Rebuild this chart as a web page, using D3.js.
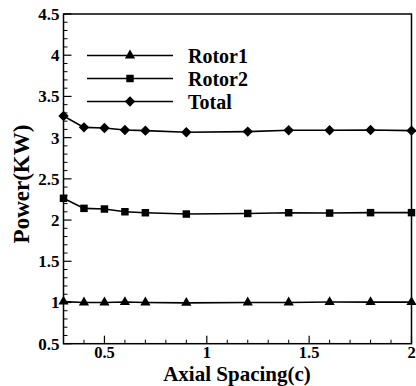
<!DOCTYPE html>
<html>
<head>
<meta charset="utf-8">
<script src="https://cdn.jsdelivr.net/npm/d3@7"></script>
<style>
  html, body { margin: 0; padding: 0; background: #fff; }
  svg { display: block; }
</style>
</head>
<body>
<svg id="chart" width="416" height="386"></svg>
<script>
const xValues = [0.3, 0.4, 0.5, 0.6, 0.7, 0.9, 1.2, 1.4, 1.6, 1.8, 2.0];
const rotor1 = [1.01, 1.0, 1.0, 1.005, 1.0, 0.995, 1.0, 1.0, 1.005, 1.005, 1.005];
const rotor2 = [2.264, 2.142, 2.134, 2.101, 2.089, 2.073, 2.08, 2.089, 2.085, 2.09, 2.09];
const total = [3.263, 3.125, 3.117, 3.093, 3.085, 3.065, 3.073, 3.089, 3.089, 3.093, 3.085];
const seriesNames = ["Rotor1", "Rotor2", "Total"];
const xTicks = [0.5, 1, 1.5, 2];
const xTickLabels = ["0.5", "1", "1.5", "2"];
const yTicks = [0.5, 1, 1.5, 2, 2.5, 3, 3.5, 4, 4.5];
const yTickLabels = ["0.5", "1", "1.5", "2", "2.5", "3", "3.5", "4", "4.5"];
const xTitle = "Axial Spacing(c)";
const yTitle = "Power(KW)";

const FONT = "'Liberation Serif', 'Times New Roman', serif";
const svg = d3.select("#chart");
const L = 63.5, R = 411.5, T = 14, B = 343.7;
const x = d3.scaleLinear().domain([0.3, 2]).range([L, R]);
const y = d3.scaleLinear().domain([0.5, 4.5]).range([B, T]);

const xMinor = d3.range(4, 20).map(d => d / 10).filter(v => !xTicks.some(t => Math.abs(t - v) < 1e-9));
const yMinor = d3.range(6, 45).map(d => d / 10).filter(v => !yTicks.some(t => Math.abs(t - v) < 1e-9));

const g = svg.append("g");
function txt(sel, size) {
  return sel.attr("font-family", FONT).attr("font-weight", "bold").attr("font-size", size).attr("fill", "#000");
}

g.selectAll(".xminor").data(xMinor).enter().append("line")
  .attr("x1", d => x(d)).attr("x2", d => x(d)).attr("y1", B).attr("y2", B - 4)
  .attr("stroke", "#000").attr("stroke-width", 1);
g.selectAll(".xmajor").data(xTicks).enter().append("line")
  .attr("x1", d => x(d)).attr("x2", d => x(d)).attr("y1", B).attr("y2", B - 8)
  .attr("stroke", "#000").attr("stroke-width", 1.2);
g.selectAll(".yminor").data(yMinor).enter().append("line")
  .attr("y1", d => y(d)).attr("y2", d => y(d)).attr("x1", L).attr("x2", L + 4)
  .attr("stroke", "#000").attr("stroke-width", 1);
g.selectAll(".ymajor").data(yTicks).enter().append("line")
  .attr("y1", d => y(d)).attr("y2", d => y(d)).attr("x1", L).attr("x2", L + 8)
  .attr("stroke", "#000").attr("stroke-width", 1.2);

g.selectAll(".xlab").data(xTicks).enter().append("text")
  .attr("x", d => x(d)).attr("y", 358).attr("text-anchor", "middle")
  .call(s => txt(s, 16.5)).text((d, i) => xTickLabels[i]);
g.selectAll(".ylab").data(yTicks).enter().append("text")
  .attr("x", L - 4).attr("y", d => y(d) + 6).attr("text-anchor", "end")
  .call(s => txt(s, 17)).text((d, i) => yTickLabels[i]);

g.append("rect").attr("x", L).attr("y", T).attr("width", R - L).attr("height", B - T)
  .attr("fill", "none").attr("stroke", "#000").attr("stroke-width", 1.5);

g.append("text").attr("x", 237).attr("y", 381).attr("text-anchor", "middle")
  .call(s => txt(s, 21)).text(xTitle);
g.append("text").attr("transform", "translate(29,184) rotate(-90)").attr("text-anchor", "middle")
  .call(s => txt(s, 23)).text(yTitle);

// triangle, square, diamond (square rotated 45deg)
const symTypes = [d3.symbolTriangle, d3.symbolSquare, d3.symbolSquare];
const symSizes = [45, 56, 54];
const symRot = [0, 0, 45];
function drawSym(sel, i) {
  sel.attr("d", d3.symbol().type(symTypes[i]).size(symSizes[i])()).attr("fill", "#000");
}

const series = [rotor1, rotor2, total];
const line = d3.line().x(d => x(d[0])).y(d => y(d[1]));
series.forEach((vals, i) => {
  const pts = xValues.map((xv, k) => [xv, vals[k]]);
  g.append("path").datum(pts).attr("d", line).attr("fill", "none")
    .attr("stroke", "#000").attr("stroke-width", 1.6);
  g.selectAll(".m" + i).data(pts).enter().append("path")
    .attr("transform", d => `translate(${x(d[0])},${y(d[1])}) rotate(${symRot[i]})`)
    .call(sel => drawSym(sel, i));
});

const legY = [55.5, 78.5, 101.5];
seriesNames.forEach((name, i) => {
  g.append("line").attr("x1", 87).attr("x2", 173).attr("y1", legY[i]).attr("y2", legY[i])
    .attr("stroke", "#000").attr("stroke-width", 1.6);
  g.append("path").attr("transform", `translate(130,${legY[i]}) rotate(${symRot[i]})`).call(sel => drawSym(sel, i));
  g.append("text").attr("x", 188).attr("y", legY[i] + 7).call(s => txt(s, 20)).text(name);
});
</script>
</body>
</html>
